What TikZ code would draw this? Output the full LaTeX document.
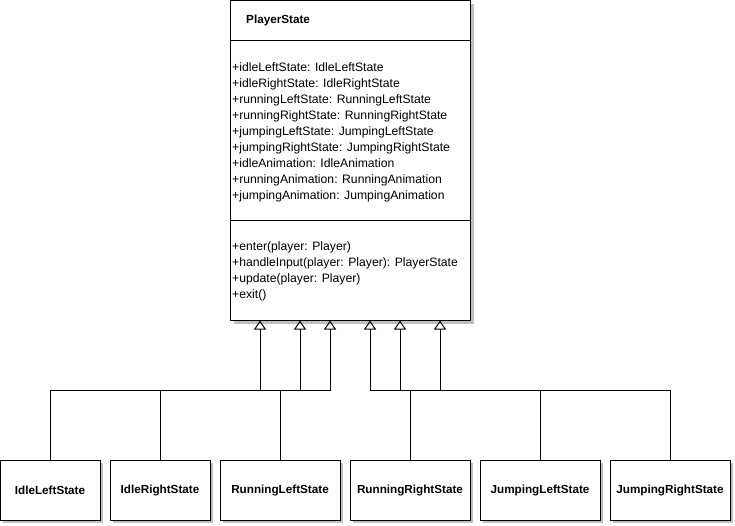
\documentclass[tikz,border=0pt]{standalone}
\usepackage{fontspec}
\setmainfont{Liberation Sans}
\usetikzlibrary{positioning,arrows.meta,shadows}
\tikzset{
  uml/.style={draw, fill=white, line width=1pt, outer sep=0pt, inner sep=0pt,
    drop shadow={shadow xshift=3pt, shadow yshift=-3pt, fill=black!25, opacity=1}},
  cls/.style={uml, minimum height=60pt, font=\bfseries\fontsize{11.7}{14}\selectfont},
  member/.style={anchor=west, inner sep=0pt, text height=8.5pt, text depth=2.5pt,
    font=\fontsize{12.2}{14}\selectfont},
  inherit/.style={-{Triangle[open, length=9pt, width=12pt]}, line width=1pt},
}
\begin{document}
\begin{tikzpicture}[x=1pt, y=-1pt]
      \useasboundingbox (0,0) rectangle (735,525);
      % the base class
      \node[uml, minimum width=240pt, minimum height=320pt, anchor=north west] (ps) at (230.5,0.5) {};
      \draw[line width=1pt] ([yshift=-40pt]ps.north west) -- ([yshift=-40pt]ps.north east);
      \draw[line width=1pt] ([yshift=-220pt]ps.north west) -- ([yshift=-220pt]ps.north east);
      \node[member, font=\bfseries\fontsize{11.7}{14}\selectfont] (title) at (246,20) {PlayerState};
      \foreach \t [count=\i] in {+idleLeftState: IdleLeftState, +idleRightState: IdleRightState,
          +runningLeftState: RunningLeftState, +runningRightState: RunningRightState,
          +jumpingLeftState: JumpingLeftState, +jumpingRightState: JumpingRightState,
          +idleAnimation: IdleAnimation, +runningAnimation: RunningAnimation,
          +jumpingAnimation: JumpingAnimation}
        \node[member] (attr\i) at (232,52+16*\i) {\t};
      \foreach \t [count=\i] in {+enter(player: Player), +handleInput(player: Player): PlayerState,
          +update(player: Player), +exit()}
        \node[member] (op\i) at (232,231+16*\i) {\t};

      % the states
      \node[cls, minimum width=100pt] (idleL) at (50,490) {IdleLeftState};
      \node[cls, minimum width=100pt, right=10pt of idleL] (idleR) {IdleRightState};
      \node[cls, minimum width=120pt, right=10pt of idleR] (runL) {RunningLeftState};
      \node[cls, minimum width=120pt, right=10pt of runL] (runR) {RunningRightState};
      \node[cls, minimum width=120pt, right=10pt of runR] (jumpL) {JumpingLeftState};
      \node[cls, minimum width=120pt, right=10pt of jumpL] (jumpR) {JumpingRightState};

      \coordinate (bus) at (0,390);
      \foreach \x/\n in {260/t1, 300/t2, 330/t3, 370/t4, 400/t5, 440/t6}
        \coordinate (\n) at (ps.south -| \x,0);
      \begin{scope}[inherit]
        \draw (idleL.north) |- (t1 |- bus) -- (t1);
        \draw (idleR.north) |- (t2 |- bus) -- (t2);
        \draw (runL.north) |- (t3 |- bus) -- (t3);
        \draw (runR.north) |- (t4 |- bus) -- (t4);
        \draw (jumpL.north) |- (t5 |- bus) -- (t5);
        \draw (jumpR.north) |- (t6 |- bus) -- (t6);
      \end{scope}
    \end{tikzpicture}
\end{document}
